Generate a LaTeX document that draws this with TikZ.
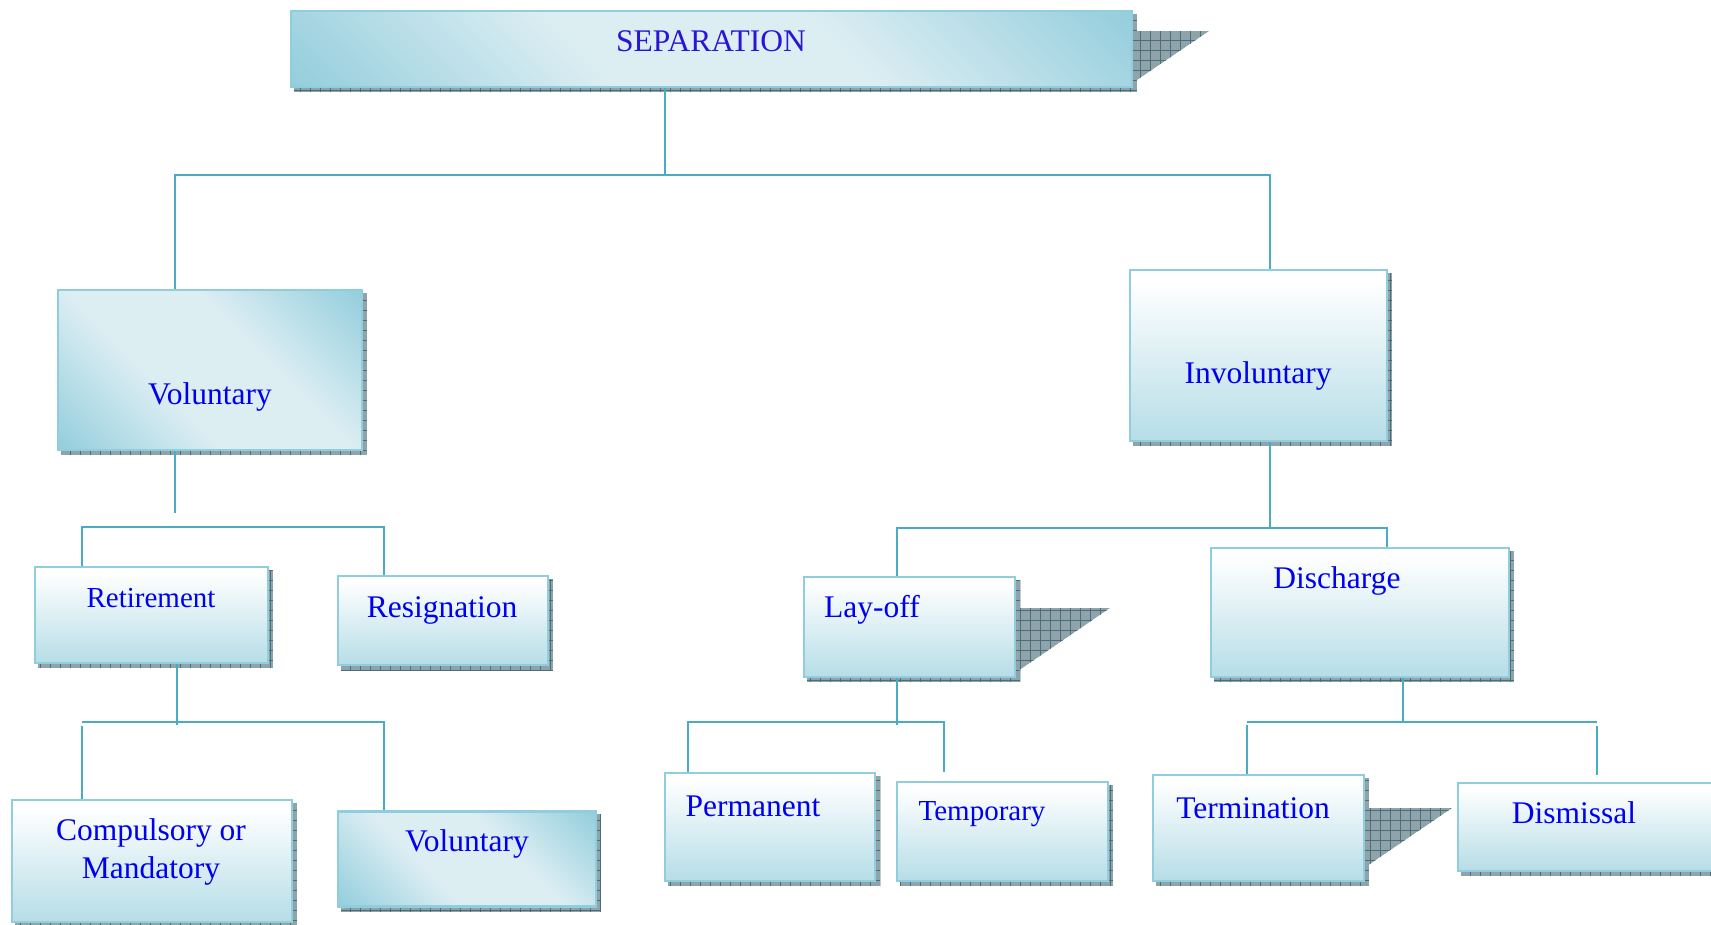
\documentclass[tikz,border=0pt]{standalone}
\usepackage{fontspec}
\setmainfont{Liberation Serif}
\pgfdeclarelayer{bg}
\pgfsetlayers{bg,main}
\definecolor{edgeb}{HTML}{90CEDD}
\definecolor{connb}{HTML}{4AACC4}
\definecolor{vbot}{HTML}{B6DDE7}
\definecolor{cornerb}{HTML}{92CDDC}
\definecolor{palec}{HTML}{DDEEF3}
\definecolor{shgray}{HTML}{8FA3AA}
\definecolor{shgrid}{HTML}{4D6E79}
\definecolor{txtb}{HTML}{0000F0}
\definecolor{septxt}{HTML}{2A14D8}
\pgfdeclareverticalshading{vgrad}{100bp}{color(0bp)=(vbot); color(25bp)=(vbot); color(72bp)=(white); color(100bp)=(white)}
\pgfdeclarehorizontalshading{dgrad}{100bp}{color(0bp)=(cornerb); color(14bp)=(cornerb); color(40bp)=(palec); color(60bp)=(palec); color(86bp)=(cornerb); color(100bp)=(cornerb)}
\tikzset{
  boxbase/.style={rectangle, draw=edgeb, line width=2.5pt, inner sep=0pt},
  vbox/.style={boxbase, shading=vgrad},
  dbox/.style={boxbase, shading=dgrad, shading angle=45},
  lbl/.style={text=txtb, font=\fontsize{31.5}{38}\selectfont, inner sep=0pt},
  lbls/.style={text=txtb, font=\fontsize{29}{34}\selectfont, inner sep=0pt},
  conn/.style={draw=connb, line width=2.2pt},
  gridln/.style={draw=shgrid, line width=0.7pt},
}
\newcommand{\boxshadow}[1]{%
  \begin{scope}
    \clip ([shift={(4,4)}]#1.north west) rectangle ([shift={(4,4)}]#1.south east);
    \fill[shgray] ([shift={(4,4)}]#1.north west) rectangle ([shift={(4,4)}]#1.south east);
    \draw[gridln, step=10pt] ([shift={(4,4)}]#1.south west) grid ([shift={(4,4)}]#1.north east);
  \end{scope}}
\newcommand{\triShadow}[3]{%
  \begin{scope}
    \clip #1 -- #2 -- #3 -- cycle;
    \fill[shgray] #1 -- #2 -- #3 -- cycle;
    \draw[gridln, step=10pt] (0,0) grid (1711,924);
  \end{scope}}
\begin{document}
\begin{tikzpicture}[x=1pt, y=-1pt]
\useasboundingbox (0,0) rectangle (1711,924);
% boxes
\node[dbox, minimum width=841pt, minimum height=76pt] (sep) at (711.5,49) {};
\node[dbox, minimum width=304pt, minimum height=160pt] (vol) at (210,370) {};
\node[vbox, minimum width=257pt, minimum height=171pt] (invol) at (1258.5,355.5) {};
\node[vbox, minimum width=233pt, minimum height=96pt] (ret) at (151.5,615) {};
\node[vbox, minimum width=210pt, minimum height=89pt] (res) at (443,620.5) {};
\node[vbox, minimum width=280pt, minimum height=122pt] (comp) at (152,861) {};
\node[dbox, minimum width=258pt, minimum height=95pt] (volb) at (467,859) {};
\node[vbox, minimum width=211pt, minimum height=100pt] (lay) at (909.5,627) {};
\node[vbox, minimum width=298pt, minimum height=129pt] (dis) at (1360,612.5) {};
\node[vbox, minimum width=210pt, minimum height=108pt] (perm) at (770,827) {};
\node[vbox, minimum width=211pt, minimum height=99pt] (temp) at (1002.5,831.5) {};
\node[vbox, minimum width=211pt, minimum height=106pt] (term) at (1258.5,828) {};
\node[vbox, minimum width=272pt, minimum height=88pt] (dism) at (1594,827) {};
% shadows
\begin{pgfonlayer}{bg}
  \foreach \b in {sep,vol,invol,ret,res,comp,volb,lay,dis,perm,temp,term,dism} {\boxshadow{\b}}
  \triShadow{(1134,31)}{(1209,31)}{(1134,82)}
  \triShadow{(1015,608)}{(1110,608)}{(1015,673)}
  \triShadow{(1364,808)}{(1452,808)}{(1364,868)}
\end{pgfonlayer}
% labels
\node[lbl, text=septxt] (tsep) at (711,41) {SEPARATION};
\node[lbl] (tvol) at (210,397) {Voluntary};
\node[lbl] (tinv) at (1258,376) {Involuntary};
\node[lbls] (tret) at (151,598) {Retirement};
\node[lbl] (tres) at (442,610) {Resignation};
\node[lbl, align=center] (tcomp) at (151,852) {Compulsory or\\Mandatory};
\node[lbl] (tvolb) at (467,844) {Voluntary};
\node[lbl, anchor=west] (tlay) at (824,610) {Lay-off};
\node[lbl] (tdis) at (1337,581) {Discharge};
\node[lbl] (tperm) at (753,806) {Permanent};
\node[lbls] (ttemp) at (982,814) {Temporary};
\node[lbl] (tterm) at (1253,808) {Termination};
\node[lbl] (tdism) at (1574,813) {Dismissal};
% connectors
\coordinate (j0) at (665,175);
\coordinate (jv) at (175,175);
\coordinate (ji) at (1270,175);
\draw[conn] (j0 |- sep.south) -- (j0);
\draw[conn] (jv |- vol.north) -- (jv) -- (ji) -- (ji |- invol.north);
% voluntary branch
\coordinate (v1) at (175,513);
\coordinate (ha) at (82,527);
\coordinate (hb) at (384,527);
\draw[conn] (v1 |- vol.south) -- (v1);
\draw[conn] (ha |- ret.north) -- (ha) -- (hb) -- (hb |- res.north);
% retirement branch
\coordinate (r1) at (177,725);
\coordinate (ra) at (82,722);
\coordinate (rb) at (384,722);
\coordinate (ra2) at (82,726);
\draw[conn] (r1 |- ret.south) -- (r1);
\draw[conn] (ra) -- (rb) -- (rb |- volb.north);
\draw[conn] (ra2) -- (ra2 |- comp.north);
% involuntary branch
\coordinate (i1) at (1270,528);
\coordinate (ia) at (897,528);
\coordinate (ib) at (1387,528);
\draw[conn] (i1 |- invol.south) -- (i1);
\draw[conn] (ia |- lay.north) -- (ia) -- (ib) -- (ib |- dis.north);
% lay-off branch
\coordinate (l1) at (897,725);
\coordinate (la) at (688,722);
\coordinate (lb) at (944,722);
\coordinate (lb2) at (944,772);
\draw[conn] (l1 |- lay.south) -- (l1);
\draw[conn] (la |- perm.north) -- (la) -- (lb) -- (lb2);
% discharge branch
\coordinate (d1) at (1403,722);
\coordinate (da) at (1247,722);
\coordinate (db) at (1597,722);
\coordinate (da2) at (1247,725);
\coordinate (db2) at (1597,726);
\coordinate (db3) at (1597,775);
\draw[conn] (d1 |- dis.south) -- (d1);
\draw[conn] (da) -- (db);
\draw[conn] (da2) -- (da2 |- term.north);
\draw[conn] (db2) -- (db3);
\end{tikzpicture}
\end{document}
